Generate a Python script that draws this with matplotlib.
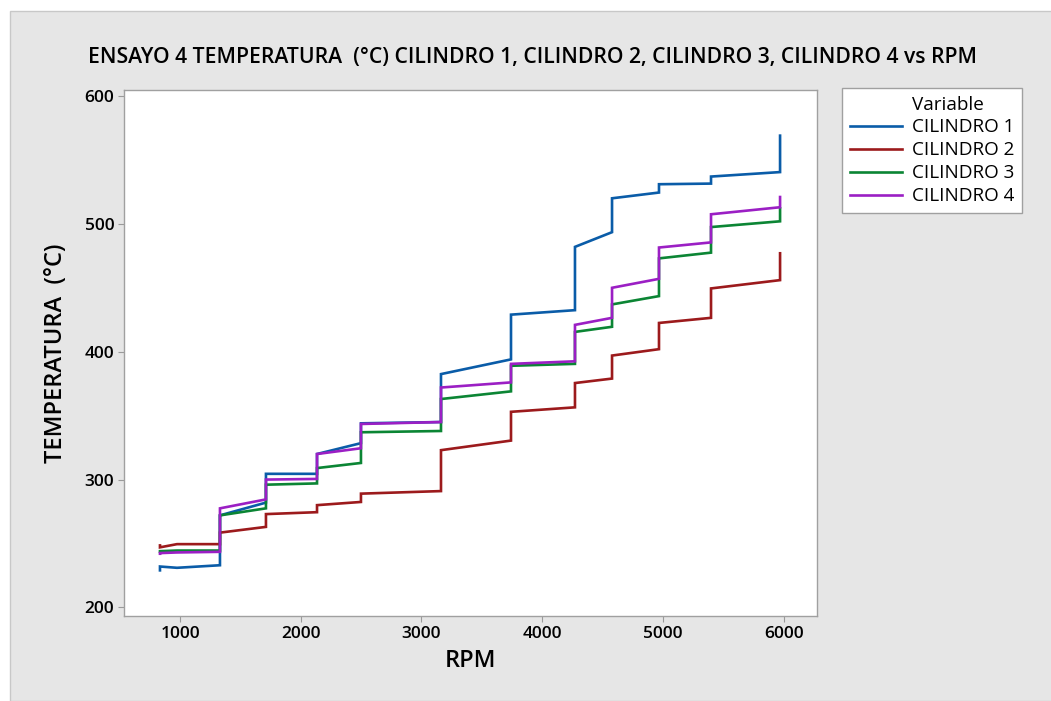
import matplotlib
matplotlib.use("Agg")
import matplotlib.pyplot as plt
from matplotlib.patches import Rectangle

# RPM readings (shared by all four cylinders), two readings per speed step
rpm = [834, 834, 975, 1331, 1331, 1712, 1712, 2135, 2135, 2499, 2499, 3162, 3162,
       3742, 3742, 4272, 4272, 4579, 4579, 4968, 4968, 5399, 5399, 5971, 5971]

cil1 = [229, 232, 231, 233, 272, 282, 304.5, 304.5, 320, 328.5, 344, 345, 382.5,
        394, 429, 432.5, 482, 493.5, 520, 524.5, 531, 531.5, 537, 540.5, 569]
cil2 = [248.5, 247, 249.5, 249.5, 258.5, 263, 273, 274.5, 280, 282.5, 289, 291, 323,
        330.5, 353, 356.5, 375.5, 379, 397, 402, 422.5, 426.5, 449.5, 456, 477]
cil3 = [243.5, 244, 244.5, 244.5, 272, 277.5, 296, 297, 309, 313, 337, 338, 363,
        369, 389, 390.5, 415.5, 419.5, 437, 443.5, 473, 477.5, 497.5, 502, 512]
cil4 = [242, 242.5, 243, 243.5, 277.5, 284.5, 300, 300.5, 320, 324.5, 343.5, 345, 372,
        376, 390.5, 392.5, 421, 426.5, 450, 457, 481.5, 485.5, 507.5, 513, 521]

names = ["CILINDRO 1", "CILINDRO 2", "CILINDRO 3", "CILINDRO 4"]
colors = ["#0A5CA8", "#9C1A1C", "#0B8534", "#9B1FC4"]

plt.rcParams["font.family"] = ["Open Sans", "DejaVu Sans"]

fig = plt.figure(figsize=(10.51, 7.01), dpi=100)
fig.patch.set_facecolor("white")
bg = Rectangle((10 / 1051, 0), 1, 1 - 11 / 701, transform=fig.transFigure,
               facecolor="#E6E6E6", edgecolor="#C8C8C8", lw=1, zorder=-10)
fig.patches.append(bg)

ax = fig.add_axes([124 / 1051, 85 / 701, 693 / 1051, 526 / 701])
ax.set_facecolor("white")
ax.set_zorder(1)

# invisible first entry acts as the legend heading
ax.plot([], [], color="none", label="Variable")
for y, name, c in zip([cil1, cil2, cil3, cil4], names, colors):
    ax.plot(rpm, y, color=c, lw=1.9, label=name, solid_joinstyle="miter")

ax.set_xlim(536, 6277)
ax.set_ylim(193.3, 604.7)
ax.set_xticks([1000, 2000, 3000, 4000, 5000, 6000])
ax.set_yticks([200, 300, 400, 500, 600])
ax.tick_params(direction="out", length=4, color="#9A9A9A", labelsize=12.5, pad=3)
for lab in ax.get_xticklabels() + ax.get_yticklabels():
    lab.set_fontweight("semibold")
for s in ax.spines.values():
    s.set_color("#A0A0A0")
    s.set_linewidth(1.0)

ax.set_xlabel("RPM", fontsize=17, fontweight="semibold", labelpad=5)
ax.set_ylabel("TEMPERATURA  (°C)", fontsize=17, fontweight="semibold", labelpad=12)
fig.text(532 / 1051, 1 - 57 / 701,
         "ENSAYO 4 TEMPERATURA  (°C) CILINDRO 1, CILINDRO 2, CILINDRO 3, CILINDRO 4 vs RPM",
         ha="center", va="center", fontsize=15.2, fontweight="semibold", zorder=2)

leg = ax.legend(loc="upper left", bbox_to_anchor=(842 / 1051, 1 - 88 / 701),
                bbox_transform=fig.transFigure, fontsize=13.6,
                frameon=True, fancybox=False, framealpha=1, handlelength=2.75,
                borderaxespad=0, labelspacing=0.26, borderpad=0.4, handletextpad=0.55)
leg.get_frame().set_edgecolor("#A0A0A0")
leg.get_frame().set_linewidth(1.0)

fig.savefig("out.png", dpi=100)
